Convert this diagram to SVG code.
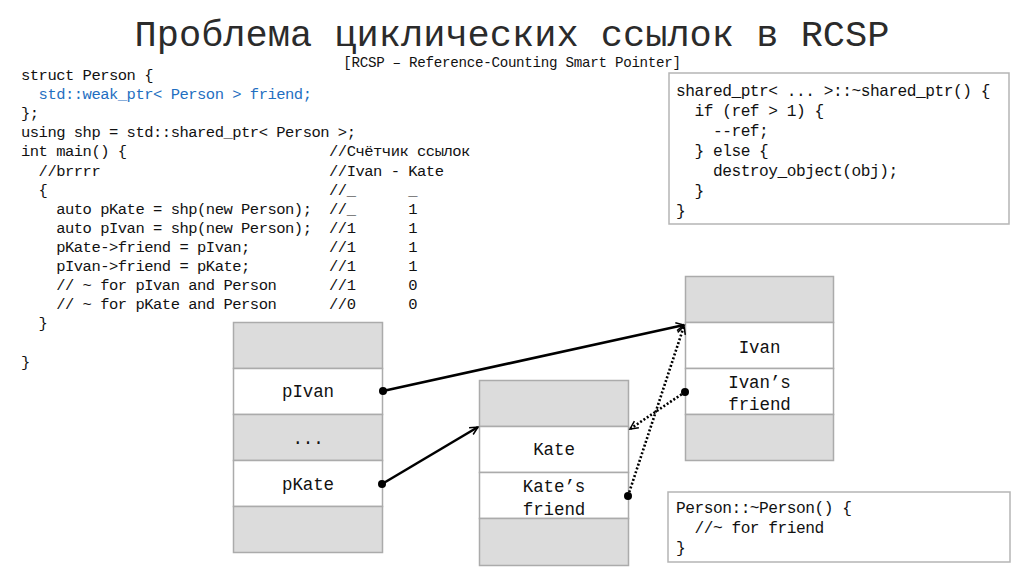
<svg xmlns="http://www.w3.org/2000/svg" width="1024" height="576" viewBox="0 0 1024 576">
<defs>
<style>
text{font-family:"Liberation Mono","DejaVu Sans Mono",monospace;fill:#111;white-space:pre}
.title{font-size:37px;fill:#2b2b2b}
.sub{font-size:14.2px;letter-spacing:-0.28px}
.code{font-size:15.5px;letter-spacing:-0.5px}
.blue{fill:#1f6fc1}
.box{font-size:16.2px;letter-spacing:-0.48px}
.lbl{font-size:17.5px;text-anchor:middle;letter-spacing:-0.1px}
.cell{stroke:#ababab;stroke-width:1.5}
.g{fill:#dcdcdc}
.w{fill:#fff}
.frame{fill:#fff;stroke:#b5b5b5;stroke-width:1.5}
.solid{stroke:#000;stroke-width:2.6;fill:none}
.dot{stroke:#000;stroke-width:2.6;stroke-dasharray:2 2;fill:none}
</style>
<marker id="arr" markerUnits="userSpaceOnUse" markerWidth="12" markerHeight="12" refX="9" refY="5" orient="auto">
<path d="M1,1 L9,5 L1,9" fill="none" stroke="#000" stroke-width="1.5"/>
</marker>
</defs>
<rect width="1024" height="576" fill="#fff"/>
<text class="title" x="512" y="46" text-anchor="middle">Проблема циклических ссылок в RCSP</text>
<text class="sub" x="512" y="67" text-anchor="middle">[RCSP – Reference-Counting Smart Pointer]</text>

<g id="main-code" class="code" xml:space="preserve">
<text class="code" x="21" y="80">struct Person {</text>
<text class="code blue" x="21" y="99.1">  std::weak_ptr&lt; Person &gt; friend;</text>
<text class="code" x="21" y="118.2">};</text>
<text class="code" x="21" y="137.3">using shp = std::shared_ptr&lt; Person &gt;;</text>
<text class="code" x="21" y="156.4">int main() {                       //Счётчик ссылок</text>
<text class="code" x="21" y="175.5">  //brrrr                          //Ivan - Kate</text>
<text class="code" x="21" y="194.6">  {                                //_      _</text>
<text class="code" x="21" y="213.7">    auto pKate = shp(new Person);  //_      1</text>
<text class="code" x="21" y="232.8">    auto pIvan = shp(new Person);  //1      1</text>
<text class="code" x="21" y="251.9">    pKate-&gt;friend = pIvan;         //1      1</text>
<text class="code" x="21" y="271">    pIvan-&gt;friend = pKate;         //1      1</text>
<text class="code" x="21" y="290.1">    // ~ for pIvan and Person      //1      0</text>
<text class="code" x="21" y="309.2">    // ~ for pKate and Person      //0      0</text>
<text class="code" x="21" y="328.3">  }</text>
<text class="code" x="21" y="366.5">}</text>
</g>

<g id="shared-ptr-dtor" xml:space="preserve">
<rect class="frame" x="669" y="73" width="340" height="151"/>
<text class="box" x="676" y="96">shared_ptr&lt; ... &gt;::~shared_ptr() {</text>
<text class="box" x="676" y="116">  if (ref &gt; 1) {</text>
<text class="box" x="676" y="136">    --ref;</text>
<text class="box" x="676" y="156">  } else {</text>
<text class="box" x="676" y="176">    destroy_object(obj);</text>
<text class="box" x="676" y="196">  }</text>
<text class="box" x="676" y="216">}</text>
</g>

<g id="person-dtor" xml:space="preserve">
<rect class="frame" x="668" y="492" width="342" height="70"/>
<text class="box" x="676" y="513">Person::~Person() {</text>
<text class="box" x="676" y="533">  //~ for friend</text>
<text class="box" x="676" y="553">}</text>
</g>

<g id="stack">
<rect class="cell g" x="233.5" y="322.5" width="149" height="46"/>
<rect class="cell w" x="233.5" y="368.5" width="149" height="46"/>
<rect class="cell g" x="233.5" y="414.5" width="149" height="46"/>
<rect class="cell w" x="233.5" y="460.5" width="149" height="46"/>
<rect class="cell g" x="233.5" y="506.5" width="149" height="46"/>
<text class="lbl" x="308" y="397">pIvan</text>
<text class="lbl" x="308" y="444">...</text>
<text class="lbl" x="308" y="490">pKate</text>
</g>

<g id="kate">
<rect class="cell g" x="479.5" y="380.5" width="149" height="46"/>
<rect class="cell w" x="479.5" y="426.5" width="149" height="46"/>
<rect class="cell w" x="479.5" y="472.5" width="149" height="46"/>
<rect class="cell g" x="479.5" y="518.5" width="149" height="47"/>
<text class="lbl" x="554" y="455">Kate</text>
<text class="lbl" x="554" y="492">Kate’s</text>
<text class="lbl" x="554" y="515">friend</text>
</g>

<g id="ivan">
<rect class="cell g" x="685.5" y="276.5" width="148" height="46"/>
<rect class="cell w" x="685.5" y="322.5" width="148" height="46"/>
<rect class="cell w" x="685.5" y="368.5" width="148" height="46"/>
<rect class="cell g" x="685.5" y="414.5" width="148" height="46"/>
<text class="lbl" x="759.5" y="353">Ivan</text>
<text class="lbl" x="759.5" y="388">Ivan’s</text>
<text class="lbl" x="759.5" y="410">friend</text>
</g>

<g id="connectors">
<line class="solid" x1="383" y1="391" x2="684" y2="325" marker-end="url(#arr)"/>
<line class="solid" x1="382" y1="484" x2="478" y2="427" marker-end="url(#arr)"/>
<line class="dot" x1="628" y1="496" x2="684" y2="326" marker-end="url(#arr)"/>
<line class="dot" x1="685" y1="392" x2="630" y2="429" marker-end="url(#arr)"/>
<circle cx="383" cy="391" r="4"/>
<circle cx="382" cy="484" r="4"/>
<circle cx="628" cy="496" r="4"/>
<circle cx="685" cy="392" r="4"/>
</g>
</svg>
